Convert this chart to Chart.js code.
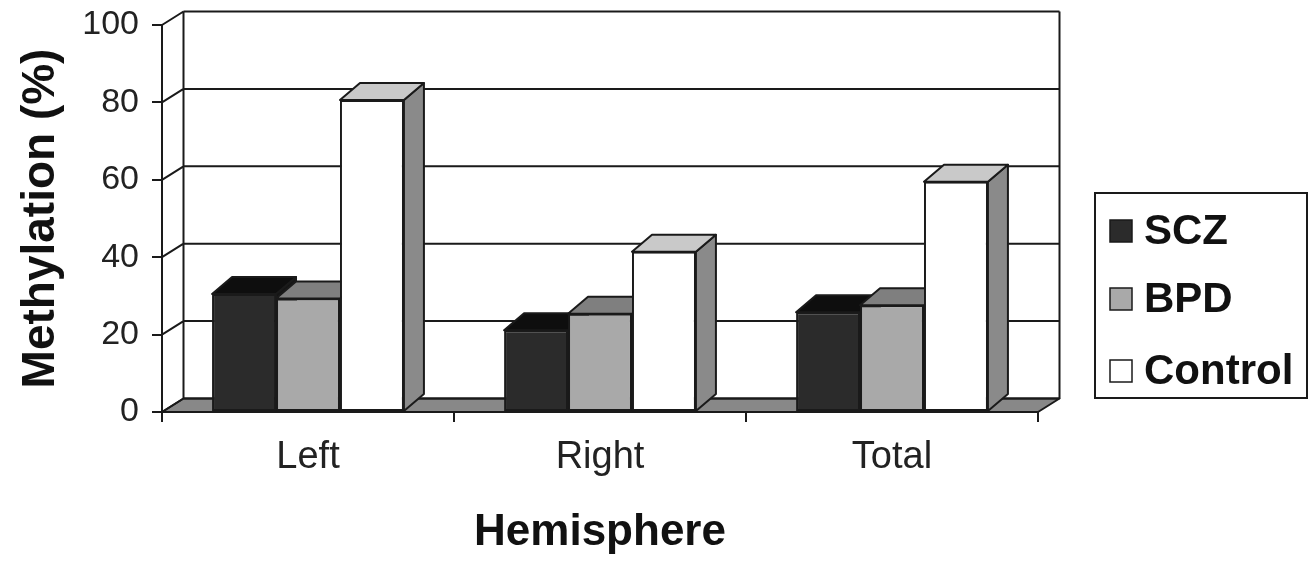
<!DOCTYPE html>
<html>
<head>
<title>Methylation by Hemisphere</title>
<script src="https://cdn.jsdelivr.net/npm/chart.js"></script>
<style>
  html, body { margin: 0; padding: 0; background: #fff; }
  #wrap { width: 1315px; height: 569px; }
</style>
</head>
<body>
<div id="wrap"><canvas id="chart"></canvas></div>
<script>
  // values
  const categories = ['Left', 'Right', 'Total'];
  const seriesNames = ['SCZ', 'BPD', 'Control'];
  const sczValues = [30.5, 21.1, 25.8];
  const bpdValues = [29.3, 25.4, 27.6];
  const controlValues = [80.6, 41.4, 59.5];
  const yTicks = [0, 20, 40, 60, 80, 100];

  const FONT = '"Liberation Sans", Arial, sans-serif';
  const LINE = '#1a1a1a';

  // front / top / side colours of each series
  const faces = [
    { front: '#2b2b2b', top: '#0e0e0e', side: '#151515' },
    { front: '#a9a9a9', top: '#7f7f7f', side: '#707070' },
    { front: '#ffffff', top: '#c9c9c9', side: '#8a8a8a' }
  ];

  // fake 3D depth offsets
  const BAR_DX = 20, BAR_DY = -17;
  const WALL_DX = 21.5, WALL_DY = -13.5;

  function poly(ctx, pts, fill) {
    ctx.beginPath();
    ctx.moveTo(pts[0][0], pts[0][1]);
    for (let i = 1; i < pts.length; i++) ctx.lineTo(pts[i][0], pts[i][1]);
    ctx.closePath();
    if (fill) { ctx.fillStyle = fill; ctx.fill(); }
    ctx.stroke();
  }

  const threeD = {
    id: 'threeD',
    beforeDatasetsDraw(chart) {
      const ctx = chart.ctx;
      const { left, right, bottom } = chart.chartArea;
      const yScale = chart.scales.y;
      const top = yScale.getPixelForValue(100);
      ctx.save();
      ctx.strokeStyle = LINE;
      ctx.lineWidth = 2;
      ctx.lineJoin = 'round';

      // floor
      poly(ctx, [[left, bottom], [right, bottom],
                 [right + WALL_DX, bottom + WALL_DY], [left + WALL_DX, bottom + WALL_DY]], '#888888');

      // gridlines on the back wall + slants on the left wall
      ctx.beginPath();
      yTicks.forEach(v => {
        const py = yScale.getPixelForValue(v);
        ctx.moveTo(left + WALL_DX, py + WALL_DY);
        ctx.lineTo(right + WALL_DX, py + WALL_DY);
        ctx.moveTo(left, py);
        ctx.lineTo(left + WALL_DX, py + WALL_DY);
      });
      ctx.moveTo(left + WALL_DX, top + WALL_DY);
      ctx.lineTo(left + WALL_DX, bottom + WALL_DY);
      ctx.moveTo(right + WALL_DX, top + WALL_DY);
      ctx.lineTo(right + WALL_DX, bottom + WALL_DY);
      ctx.stroke();

      // top and side faces, painted left to right
      categories.forEach((c, i) => {
        chart.data.datasets.forEach((ds, j) => {
          const el = chart.getDatasetMeta(j).data[i];
          const { x, y, width, base } = el.getProps(['x', 'y', 'width', 'base'], true);
          const xl = x - width / 2, xr = x + width / 2;
          poly(ctx, [[xr, y], [xr + BAR_DX, y + BAR_DY], [xr + BAR_DX, base + BAR_DY], [xr, base]], faces[j].side);
          poly(ctx, [[xl, y], [xl + BAR_DX, y + BAR_DY], [xr + BAR_DX, y + BAR_DY], [xr, y]], faces[j].top);
        });
      });
      ctx.restore();
    },
    afterDraw(chart) {
      // boxed legend on the right
      const ctx = chart.ctx;
      ctx.save();
      ctx.strokeStyle = LINE;
      ctx.lineWidth = 2;
      ctx.strokeRect(1095, 193, 212, 205);
      const rows = [231, 299, 371];
      ctx.font = 'bold 42px ' + FONT;
      ctx.textBaseline = 'middle';
      ctx.textAlign = 'left';
      chart.data.datasets.forEach((ds, j) => {
        ctx.fillStyle = faces[j].front;
        ctx.lineWidth = 1.5;
        ctx.fillRect(1110, rows[j] - 11, 22, 22);
        ctx.strokeRect(1110, rows[j] - 11, 22, 22);
        ctx.fillStyle = '#111';
        ctx.fillText(ds.label, 1144, rows[j] + 1);
      });
      ctx.restore();
    }
  };

  const seriesValues = [sczValues, bpdValues, controlValues];

  new Chart(document.getElementById('chart'), {
    type: 'bar',
    data: {
      labels: categories,
      datasets: seriesNames.map((name, j) => ({
        label: name,
        data: seriesValues[j],
        backgroundColor: faces[j].front,
        borderColor: LINE,
        borderWidth: 2,
        borderSkipped: false,
        barPercentage: 1,
        categoryPercentage: 0.657
      }))
    },
    options: {
      responsive: true,
      maintainAspectRatio: false,
      animation: false,
      layout: { padding: { top: 25, right: 277, left: 0, bottom: 0 } },
      plugins: {
        legend: { display: false },
        tooltip: { enabled: false }
      },
      scales: {
        y: {
          min: 0,
          max: 100,
          ticks: { stepSize: 20, color: '#222', padding: 13, font: { family: FONT, size: 34 } },
          grid: { drawOnChartArea: false, tickLength: 10, color: LINE, lineWidth: 2 },
          border: { display: true, color: LINE, width: 2 },
          title: {
            display: true,
            text: 'Methylation (%)',
            color: '#111',
            font: { family: FONT, size: 46, weight: 'bold' },
            padding: { top: 14, bottom: 0 }
          },
          afterFit(s) { s.width = 162; s.paddingTop = 0; s.paddingBottom = 0; }
        },
        x: {
          ticks: { color: '#222', padding: 13, font: { family: FONT, size: 38 } },
          grid: { drawOnChartArea: false, offset: true, tickLength: 10, color: LINE, lineWidth: 2 },
          border: { display: true, color: LINE, width: 2 },
          title: {
            display: true,
            text: 'Hemisphere',
            color: '#111',
            font: { family: FONT, size: 44, weight: 'bold' },
            padding: { top: 0, bottom: 10 }
          },
          afterFit(s) { s.height = 157; }
        }
      }
    },
    plugins: [threeD]
  });
</script>
</body>
</html>
